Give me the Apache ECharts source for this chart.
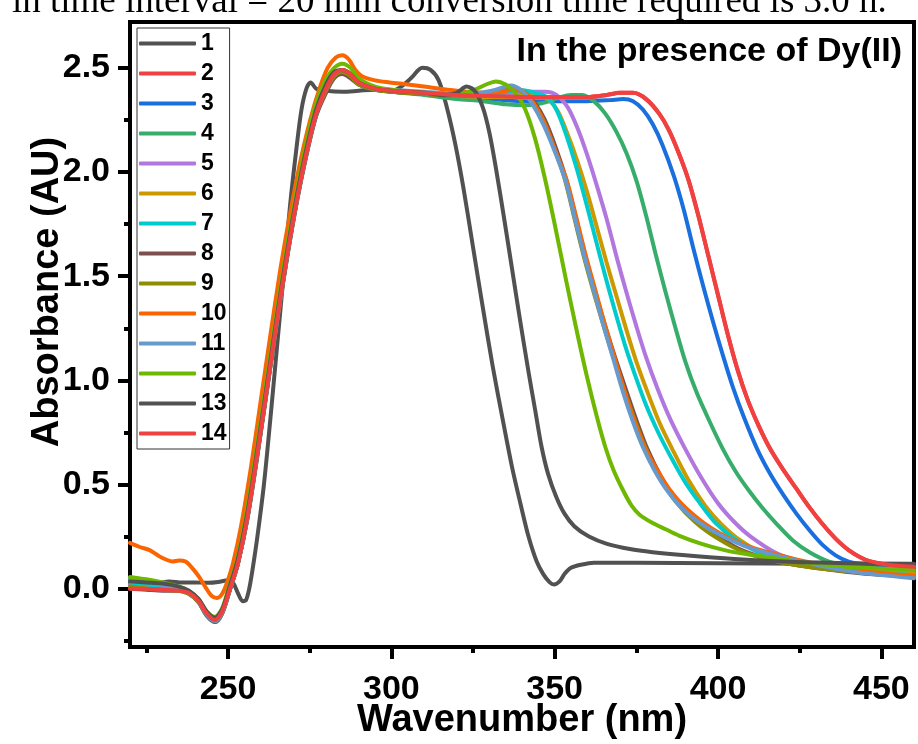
<!DOCTYPE html>
<html><head><meta charset="utf-8">
<script src="https://cdn.jsdelivr.net/npm/echarts@6/dist/echarts.min.js"></script>
<style>html,body{margin:0;padding:0;background:#fff}#c{width:918px;height:744px}</style>
</head><body><div id="c"></div>
<script>
const seriesNames = ['1','2','3','4','5','6','7','8','9','10','11','12','13','14'];
const seriesColors = ['#515151','#F14040','#1A6FDF','#37AD6B','#B177DE','#CC9900','#00CBCC','#7D4E4E','#8E8E00','#FB6501','#6699CC','#6FB802','#515151','#F14040'];
const xMajorTicks = [250,300,350,400,450];
const xMinorTicks = [225,275,325,375,425];
const yMajorTicks = [0,0.5,1.0,1.5,2.0,2.5];
const yMinorTicks = [-0.25,0.25,0.75,1.25,1.75,2.25];
const xTitle = 'Wavenumber (nm)';
const yTitle = 'Absorbance (AU)';
const panelLabel = 'In the presence of Dy(II)';
const captionText = 'in time interval = 20 min conversion time required is 3.0 h.';

const s1 = [[220,0.035],[224,0.03],[228,0.025],[232,0.035],[236,0.03],[240,0.03],[244,0.028],[247,0.032],[250,0.04],[251.5,0.03],[253,-0.02],[254.5,-0.06],[255.5,-0.055],[256.5,0.0],[257.5,0.09],[259,0.25],[261,0.5],[263,0.82],[265,1.16],[267,1.5],[269,1.84],[271,2.12],[272.5,2.3],[274,2.4],[275.3,2.43],[277,2.4],[280,2.39],[285,2.385],[290,2.39],[295,2.395],[300,2.39],[303,2.41],[306,2.45],[309.5,2.5],[312,2.49],[314.5,2.44],[317,2.31],[319.5,2.14],[322,1.93],[325,1.64],[328,1.35],[331,1.07],[334,0.82],[337,0.58],[339.5,0.41],[342,0.25],[344.5,0.13],[346.5,0.07],[348.5,0.03],[349.8,0.02],[351.5,0.035],[353,0.07],[355,0.1],[358,0.115],[362,0.125],[375,0.125],[400,0.122],[430,0.12],[460,0.12]];
const s2 = [[220,0.01],[225,0.005],[230,0.0],[235,-0.005],[238,-0.02],[241,-0.06],[243.5,-0.12],[246,-0.15],[248.2,-0.11],[250.6,0.0],[253,0.12],[256,0.35],[259,0.65],[262,0.97],[265,1.29],[268,1.59],[271,1.86],[274,2.09],[277,2.28],[280,2.4],[282.5,2.47],[285,2.49],[287.5,2.47],[290,2.43],[295,2.4],[300,2.39],[310,2.38],[320,2.37],[330,2.365],[340,2.36],[350,2.36],[360,2.36],[366,2.37],[370,2.38],[374,2.38],[378,2.35],[382,2.28],[385,2.2],[388,2.09],[391,1.96],[394,1.79],[397,1.6],[400,1.41],[403,1.22],[406,1.05],[409,0.91],[412.5,0.78],[416,0.67],[420,0.57],[424,0.48],[428,0.39],[432,0.31],[436,0.24],[440,0.185],[445,0.14],[450,0.12],[455,0.11],[460,0.105]];
const s3 = [[220,0.04],[225,0.03],[230,0.015],[235,0.0],[238,-0.02],[241,-0.06],[243.5,-0.12],[246,-0.15],[248.2,-0.11],[250.6,0.0],[253,0.12],[256,0.35],[259,0.65],[262,0.97],[265,1.29],[268,1.59],[271,1.86],[274,2.09],[277,2.28],[280,2.4],[282.5,2.47],[285,2.49],[287.5,2.47],[290,2.43],[295,2.4],[300,2.39],[310,2.375],[320,2.36],[330,2.35],[340,2.34],[350,2.34],[360,2.34],[367,2.345],[371,2.35],[374,2.34],[377,2.3],[380,2.23],[383,2.13],[386.5,1.98],[389.5,1.82],[392.5,1.63],[395.5,1.45],[398.5,1.28],[401.5,1.12],[404.5,0.97],[408,0.82],[412,0.67],[416,0.55],[420,0.45],[424,0.36],[428,0.28],[432,0.21],[436,0.16],[440,0.13],[445,0.115],[452,0.105],[460,0.1]];
const s4 = [[220,0.055],[225,0.04],[230,0.02],[235,0.0],[238,-0.02],[241,-0.06],[243.5,-0.12],[246,-0.15],[248.2,-0.11],[250.6,0.0],[253,0.12],[256,0.35],[259,0.65],[262,0.97],[265,1.29],[268,1.59],[271,1.86],[274,2.09],[277,2.28],[280,2.4],[282.5,2.47],[285,2.49],[287.5,2.47],[290,2.43],[295,2.4],[300,2.385],[310,2.37],[320,2.35],[328,2.34],[335,2.325],[341,2.32],[346,2.33],[351,2.355],[355,2.37],[358.5,2.37],[362,2.34],[365.5,2.28],[369,2.19],[372,2.09],[375,1.96],[378,1.79],[381,1.6],[384,1.42],[387,1.25],[390,1.09],[393.5,0.94],[397.5,0.8],[401.5,0.67],[405.5,0.56],[409.5,0.47],[413.5,0.39],[418,0.31],[423,0.23],[428,0.175],[434,0.13],[440,0.11],[450,0.092],[460,0.085]];
const s5 = [[220,0.02],[225,0.01],[230,0.0],[235,-0.005],[238,-0.02],[241,-0.06],[243.5,-0.12],[246,-0.15],[248.2,-0.11],[250.6,0.0],[253,0.12],[256,0.35],[259,0.65],[262,0.97],[265,1.29],[268,1.59],[271,1.86],[274,2.09],[277,2.28],[280,2.4],[282.5,2.47],[285,2.49],[287.5,2.47],[290,2.43],[295,2.4],[300,2.39],[310,2.38],[320,2.37],[330,2.37],[338,2.375],[343,2.385],[347,2.385],[350.5,2.37],[354,2.31],[357,2.21],[360,2.08],[363,1.93],[366,1.77],[369,1.59],[372,1.42],[375,1.26],[378,1.11],[381.5,0.96],[385.5,0.81],[390,0.67],[395,0.53],[400,0.41],[405,0.32],[410,0.25],[418,0.17],[426,0.13],[436,0.1],[448,0.083],[460,0.075]];
const s6 = [[220,0.01],[225,0.005],[230,0.0],[235,-0.005],[238,-0.02],[241,-0.06],[243.5,-0.12],[246,-0.15],[248.2,-0.11],[250.6,0.0],[253,0.12],[256,0.35],[259,0.65],[262,0.97],[265,1.29],[268,1.59],[271,1.86],[274,2.09],[277,2.28],[280,2.4],[282.5,2.47],[285,2.49],[287.5,2.47],[290,2.43],[295,2.4],[300,2.39],[310,2.375],[320,2.365],[330,2.36],[337,2.36],[341,2.37],[345,2.37],[348,2.35],[351,2.29],[354,2.18],[357,2.05],[360,1.9],[363,1.73],[366,1.56],[369,1.4],[372,1.24],[375,1.09],[378.5,0.94],[382,0.8],[386,0.67],[391,0.52],[396,0.4],[401,0.31],[407,0.23],[415,0.16],[425,0.12],[440,0.09],[460,0.07]];
const s7 = [[220,0.03],[225,0.02],[230,0.01],[235,0.0],[238,-0.02],[241,-0.065],[243.5,-0.13],[246,-0.16],[248.2,-0.12],[250.7,0.0],[253,0.12],[256,0.34],[259,0.64],[262,0.96],[265,1.28],[268,1.58],[271,1.85],[274,2.08],[277,2.27],[280,2.39],[282.5,2.46],[285,2.48],[287.5,2.46],[290,2.42],[295,2.395],[300,2.39],[310,2.38],[320,2.37],[328,2.37],[334,2.38],[339,2.395],[344,2.38],[347.5,2.36],[350.5,2.3],[353.5,2.18],[356.5,2.03],[359.5,1.86],[362.5,1.68],[365.5,1.5],[368.5,1.33],[371.5,1.17],[374.5,1.03],[378,0.88],[382,0.74],[386,0.62],[390,0.51],[394,0.42],[399,0.32],[405,0.24],[413,0.17],[423,0.12],[440,0.085],[460,0.065]];
const s8 = [[220,0.0],[225,-0.005],[230,-0.01],[235,-0.01],[238,-0.025],[241,-0.065],[243.5,-0.13],[246,-0.16],[248.2,-0.12],[250.7,0.0],[253,0.12],[256,0.34],[259,0.64],[262,0.96],[265,1.28],[268,1.58],[271,1.85],[274,2.08],[277,2.27],[280,2.38],[282.5,2.45],[285,2.47],[287.5,2.45],[290,2.42],[295,2.395],[300,2.385],[310,2.375],[320,2.365],[327,2.37],[333,2.385],[338,2.4],[341,2.38],[344,2.33],[347,2.25],[350.5,2.11],[353.6,1.96],[356.5,1.78],[359.5,1.59],[362.5,1.42],[365.5,1.26],[368.5,1.11],[371.5,0.97],[375,0.81],[378.4,0.67],[382.5,0.54],[387.5,0.42],[393,0.33],[400,0.25],[408,0.18],[418,0.13],[432,0.095],[445,0.072],[460,0.06]];
const s9 = [[220,0.01],[225,0.0],[230,-0.005],[235,-0.01],[238,-0.025],[241,-0.065],[243.5,-0.125],[246,-0.155],[248.2,-0.115],[250.6,0.0],[253,0.12],[256,0.35],[259,0.65],[262,0.97],[265,1.29],[268,1.59],[271,1.86],[274,2.09],[277,2.28],[280,2.39],[282.5,2.46],[285,2.48],[287.5,2.46],[290,2.42],[295,2.395],[300,2.385],[310,2.375],[320,2.365],[327,2.37],[333,2.385],[337.5,2.4],[340.5,2.38],[343.5,2.33],[346.5,2.25],[350,2.11],[353.2,1.96],[356,1.78],[359,1.59],[362,1.42],[365,1.26],[368,1.11],[371,0.97],[374.5,0.81],[378,0.67],[382,0.54],[387,0.42],[393,0.32],[400,0.24],[408,0.175],[418,0.13],[432,0.095],[445,0.075],[460,0.06]];
const s10 = [[220,0.22],[223,0.2],[226,0.185],[229,0.155],[231,0.14],[233,0.13],[235,0.135],[237,0.13],[239,0.1],[241,0.06],[243,0.01],[245,-0.035],[246.5,-0.045],[248,-0.03],[249.5,0.02],[251.5,0.12],[254,0.3],[257,0.58],[260,0.9],[263,1.22],[266,1.53],[269,1.8],[272,2.04],[275,2.24],[278,2.4],[280.5,2.5],[283,2.55],[285,2.56],[287,2.54],[289,2.49],[291,2.46],[295,2.44],[299.5,2.43],[305,2.42],[310,2.41],[320,2.39],[330,2.38],[334,2.385],[338,2.4],[341,2.38],[344,2.32],[347,2.23],[350.5,2.09],[353.7,1.96],[356.5,1.79],[359.5,1.6],[362.5,1.43],[365.5,1.26],[368.5,1.1],[371.5,0.94],[374.5,0.8],[377.5,0.68],[381,0.58],[385,0.48],[390,0.39],[398,0.29],[408,0.21],[419,0.16],[430,0.12],[440,0.095],[450,0.075],[460,0.062]];
const s11 = [[220,0.045],[225,0.035],[230,0.015],[235,0.0],[238,-0.02],[241,-0.06],[243.5,-0.125],[246,-0.155],[248.2,-0.115],[250.6,0.0],[253,0.12],[256,0.35],[259,0.65],[262,0.97],[265,1.29],[268,1.59],[271,1.86],[274,2.09],[277,2.28],[280,2.4],[282.5,2.47],[285,2.49],[287.5,2.47],[290,2.43],[295,2.4],[300,2.395],[310,2.385],[320,2.375],[327,2.38],[332,2.395],[336.5,2.415],[340,2.39],[343,2.33],[346.5,2.23],[350,2.1],[353.3,1.96],[356,1.79],[359,1.6],[362,1.43],[365,1.26],[368,1.1],[371,0.94],[374,0.8],[377,0.68],[380.5,0.57],[384.5,0.47],[390,0.37],[398,0.28],[408,0.205],[418.8,0.155],[430,0.115],[440,0.085],[450,0.065],[460,0.05]];
const s12 = [[220,0.055],[225,0.045],[230,0.03],[235,0.01],[238,-0.01],[241,-0.05],[243.5,-0.11],[246,-0.135],[248.2,-0.095],[250.3,0.01],[252.8,0.14],[255.8,0.38],[258.8,0.68],[261.8,1.0],[264.8,1.32],[267.8,1.62],[270.8,1.89],[273.8,2.13],[276.8,2.32],[279.8,2.44],[282.5,2.5],[285,2.52],[287.5,2.5],[290,2.45],[295,2.41],[300,2.395],[310,2.38],[318,2.37],[324,2.385],[329,2.42],[332,2.435],[335,2.42],[338,2.38],[341,2.3],[344,2.16],[347,1.97],[350,1.75],[353.5,1.48],[357,1.22],[360,1.01],[363,0.82],[365.5,0.68],[368,0.57],[371,0.47],[373.5,0.4],[376,0.355],[380,0.315],[384,0.285],[388,0.255],[395,0.215],[402,0.185],[409,0.165],[420,0.14],[430,0.12],[445,0.1],[460,0.09]];
const s13 = [[220,0.035],[225,0.03],[230,0.025],[235,0.01],[238,-0.01],[241,-0.05],[243.5,-0.11],[246,-0.14],[248.2,-0.1],[250.5,0.01],[253,0.14],[256,0.37],[259,0.67],[262,0.99],[265,1.31],[268,1.61],[271,1.88],[274,2.11],[277,2.3],[280,2.42],[282.5,2.48],[285,2.49],[287.5,2.47],[290,2.43],[295,2.4],[300,2.39],[310,2.38],[316,2.37],[320,2.38],[323,2.41],[325.5,2.39],[328,2.31],[330,2.19],[332,2.02],[334.5,1.78],[337,1.53],[339.5,1.28],[342,1.04],[344,0.86],[346,0.68],[348,0.55],[350.5,0.44],[353,0.36],[356,0.3],[360.5,0.25],[366,0.215],[373,0.19],[380,0.175],[390,0.16],[405,0.142],[420,0.13],[440,0.122],[460,0.118]];
const s14 = [[220,0.0],[225,0.0],[230,-0.005],[235,-0.01],[238,-0.02],[241,-0.06],[243.5,-0.12],[246,-0.15],[248.2,-0.11],[250.6,0.0],[253,0.12],[256,0.35],[259,0.65],[262,0.97],[265,1.29],[268,1.59],[271,1.86],[274,2.09],[277,2.28],[280,2.4],[282.5,2.47],[285,2.49],[287.5,2.47],[290,2.43],[295,2.4],[300,2.39],[310,2.38],[320,2.37],[330,2.365],[340,2.36],[350,2.36],[360,2.36],[366,2.37],[370,2.38],[374,2.38],[378,2.35],[382,2.28],[385,2.2],[388,2.09],[391,1.96],[394,1.79],[397,1.6],[400,1.41],[403,1.22],[406,1.05],[409,0.91],[412.5,0.78],[416,0.67],[420,0.57],[424,0.48],[428,0.39],[432,0.31],[436,0.24],[440,0.185],[445,0.14],[450,0.12],[455,0.11],[460,0.105]];
const allSeries = [s1,s2,s3,s4,s5,s6,s7,s8,s9,s10,s11,s12,s13,s14];

const FF = '"Liberation Sans", Arial, sans-serif';
const chart = echarts.init(document.getElementById('c'), null, {renderer:'canvas'});
const tickStyle = {color:'#000', width:4};
chart.setOption({
  animation:false,
  backgroundColor:'#fff',
  grid:{left:130, right:4, top:22, bottom:97, show:true, borderColor:'#000', borderWidth:4, containLabel:false},
  legend:{
    orient:'vertical', left:137, top:28, padding:[4,3,4,2], itemGap:7, itemWidth:57, itemHeight:4,
    icon:'roundRect', selectedMode:false, borderColor:'#333', borderWidth:1, backgroundColor:'#fff',
    textStyle:{fontFamily:FF, fontWeight:'bold', fontSize:23, color:'#000'},
    data:seriesNames
  },
  xAxis:[
    {type:'value', min:220, max:460, position:'bottom',
     axisLine:{show:true, onZero:false, lineStyle:tickStyle},
     axisTick:{show:true, customValues:xMajorTicks, length:12, lineStyle:tickStyle},
     axisLabel:{customValues:xMajorTicks, margin:26, fontSize:34, fontWeight:'bold', color:'#000', fontFamily:FF},
     splitLine:{show:false}},
    {type:'value', min:220, max:460, position:'bottom',
     axisLine:{show:false, onZero:false},
     axisTick:{show:true, customValues:xMinorTicks, length:6, lineStyle:tickStyle},
     axisLabel:{show:false}, splitLine:{show:false}}
  ],
  yAxis:[
    {type:'value', min:-0.28, max:2.72, position:'left',
     axisLine:{show:true, onZero:false, lineStyle:tickStyle},
     axisTick:{show:true, customValues:yMajorTicks, length:12, lineStyle:tickStyle},
     axisLabel:{customValues:yMajorTicks, margin:20, fontSize:34, fontWeight:'bold', color:'#000', fontFamily:FF,
       formatter:(v)=>Number(v).toFixed(1)},
     splitLine:{show:false}},
    {type:'value', min:-0.28, max:2.72, position:'left',
     axisLine:{show:false, onZero:false},
     axisTick:{show:true, customValues:yMinorTicks, length:6, lineStyle:tickStyle},
     axisLabel:{show:false}, splitLine:{show:false}}
  ],
  series: allSeries.map((d,i)=>({
    name:seriesNames[i], type:'line', data:d, xAxisIndex:0, yAxisIndex:0,
    symbol:'none', showSymbol:false, smooth:0.3,
    lineStyle:{color:seriesColors[i], width:4, cap:'round', join:'round'},
    itemStyle:{color:seriesColors[i]}, emphasis:{disabled:true}, silent:true
  })),
  graphic:[
    {type:'text', x:12, y:2, z:100, style:{text:captionText, fontSize:37, fontFamily:'"Liberation Serif", "Times New Roman", serif', fill:'#000', align:'left', verticalAlign:'middle'}},
    {type:'text', x:902, y:52, z:100, style:{text:panelLabel, fontSize:34, fontWeight:'bold', fontFamily:FF, fill:'#000', align:'right', verticalAlign:'middle'}},
    {type:'text', x:48, y:292, rotation:Math.PI/2, z:100, style:{text:yTitle, fontSize:38, fontWeight:'bold', fontFamily:FF, fill:'#000', align:'center', verticalAlign:'middle'}},
    {type:'text', x:522, y:721, z:100, style:{text:xTitle, fontSize:38, fontWeight:'bold', fontFamily:FF, fill:'#000', align:'center', verticalAlign:'middle'}}
  ]
});
</script></body></html>
